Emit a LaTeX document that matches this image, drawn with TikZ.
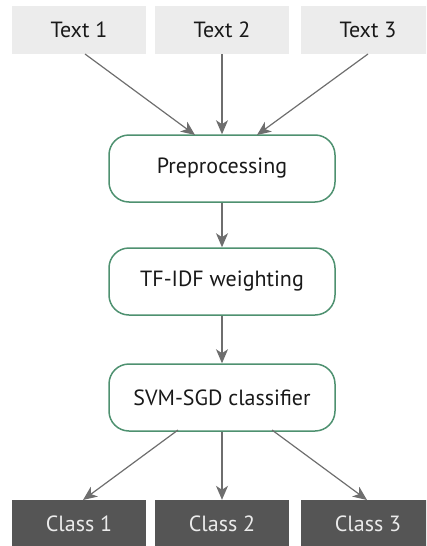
\documentclass[tikz,border=0pt]{standalone}
\usepackage{fontspec}
\setmainfont{PT Sans}
\usetikzlibrary{arrows.meta}
\definecolor{topbox}{HTML}{ECECEC}
\definecolor{botbox}{HTML}{555555}
\definecolor{stepgreen}{HTML}{4E9170}
\definecolor{arrowgray}{HTML}{6E6E6E}
\tikzset{
  inbox/.style={fill=topbox, minimum width=134pt, minimum height=48pt, inner sep=0pt, font=\fontsize{22}{24}\selectfont, text=black!90},
  outbox/.style={fill=botbox, minimum width=134pt, minimum height=48pt, inner sep=0pt, font=\fontsize{22}{24}\selectfont, text=white!92!black},
  procbox/.style={draw=stepgreen, line width=1.5pt, rounded corners=20pt, fill=white, minimum width=226pt, minimum height=67pt, inner sep=0pt, font=\fontsize{22}{24}\selectfont, text=black!90},
  conn/.style={draw=arrowgray, line width=1.2pt, -{Stealth[length=14pt,width=12pt,inset=4pt]}}
}
\begin{document}
\begin{tikzpicture}[x=1pt,y=-1pt]
\useasboundingbox (0,0) rectangle (426,546);
\begin{scope}
\clip (0,0) rectangle (426,546);
\node[inbox] (t1) at (79,30) {Text 1};
\node[inbox] (t2) at (222,30) {Text 2};
\node[inbox] (t3) at (368,30) {Text 3};
\node[outbox] (c1) at (79,524) {Class 1};
\node[outbox] (c2) at (222,524) {Class 2};
\node[outbox] (c3) at (368,524) {Class 3};
\end{scope}
\node[procbox] (pre) at (222,168.5) {Preprocessing};
\node[procbox] (tf) at (222,281.5) {TF-IDF weighting};
\node[procbox] (svm) at (222,397.5) {SVM-SGD classifier};
\coordinate (t1o) at (85,54);
\coordinate (t3o) at (368,54);
\coordinate (p1) at (195,135);
\coordinate (p3) at (257,135);
\coordinate (s1) at (178,430);
\coordinate (s3) at (272,430);
\coordinate (c1i) at (83,500);
\coordinate (c3i) at (367,500);
\draw[conn] (t1o) -- (p1);
\draw[conn] (t2) -- (pre);
\draw[conn] (t3o) -- (p3);
\draw[conn] (pre) -- (tf);
\draw[conn] (tf) -- (svm);
\draw[conn] (s1) -- (c1i);
\draw[conn] (svm) -- (c2);
\draw[conn] (s3) -- (c3i);
\end{tikzpicture}
\end{document}
